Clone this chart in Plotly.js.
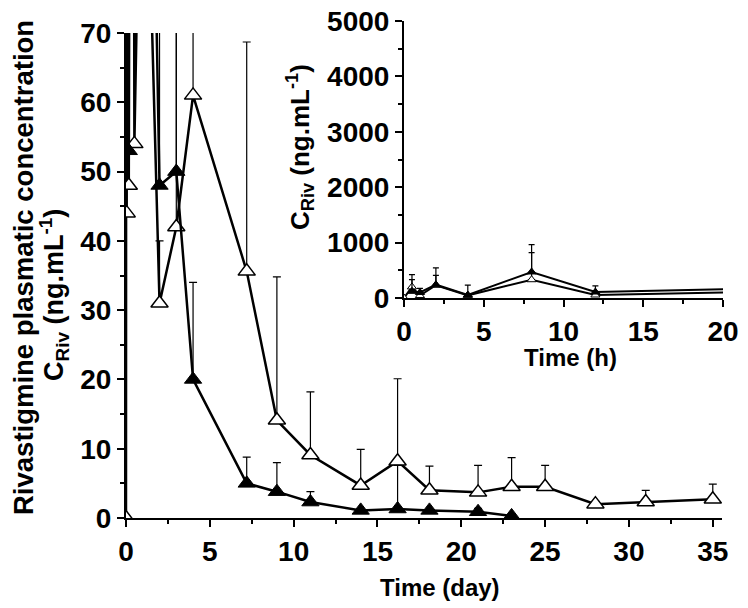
<!DOCTYPE html>
<html>
<head>
<meta charset="utf-8">
<script src="https://cdn.plot.ly/plotly-3.0.1.min.js"></script>
<style>html,body{margin:0;padding:0;background:#fff;}#chart{width:748px;height:608px;}</style>
</head>
<body>
<div id="chart"></div>
<script>
// ---- Data ----
// Early sampling times (hours), shared by both formulations
const earlyHours = [0, 0.5, 1, 2, 4, 8, 12, 24];
// Open triangles, early values (ng/mL) and upper SD
const openEarly    = [0, 200, 44, 230, 48, 330, 54, 120];
const openEarlyErr = [0, 223, 0, 312, 0, 490, 0, 0];
// Filled triangles, early values (ng/mL) and upper SD (no 0 h sample drawn)
const filledEarly    = [null, 120, 100, 240, 53, 470, 108, 180];
const filledEarlyErr = [0, 212, 75, 170, 180, 495, 110, 0];

// Later sampling times (days)
const openDays  = [2, 3, 4, 7.2, 9, 11, 14, 16.2, 18.1, 21, 23, 25, 28, 31, 35];
const openVals  = [31, 42, 61, 35.6, 14.1, 9.1, 4.7, 8.2, 4.0, 3.7, 4.5, 4.5, 2.0, 2.3, 2.7];
const openErr   = [9, 35, 30, 33.1, 20.7, 9.1, 5.2, 11.9, 3.5, 3.9, 4.2, 3.1, 0.4, 1.7, 2.2];

const filledDays = [2, 3, 4, 7.2, 9, 11, 14, 16.2, 18.1, 21, 23];
const filledVals = [48, 50, 20, 5.0, 3.8, 2.3, 1.1, 1.3, 1.1, 0.9, 0.3];
const filledErr  = [40, 40, 14, 3.8, 4.2, 1.5, 0, 6.3, 0, 0.5, 0];

// Tick labels
const mainXTicks = [0, 5, 10, 15, 20, 25, 30, 35];
const mainYTicks = [0, 10, 20, 30, 40, 50, 60, 70];
const insetXTicks = [0, 5, 10, 15, 20];
const insetYTicks = [0, 1000, 2000, 3000, 4000, 5000];

// ---- Build traces ----
const toDays = h => h / 24;
const openX = earlyHours.map(toDays).concat(openDays);
const openY = openEarly.concat(openVals);
const openE = openEarlyErr.concat(openErr);
const filledX = earlyHours.map(toDays).concat(filledDays);
const filledY = filledEarly.concat(filledVals);
const filledE = filledEarlyErr.concat(filledErr);

function errBar(arr, w, t) {
  return {type: 'data', array: arr, arrayminus: arr.map(() => 0), symmetric: false,
          color: '#000', thickness: t, width: w, visible: true};
}

const traces = [
  {x: openX, y: openY, type: 'scatter', mode: 'lines+markers', xaxis: 'x', yaxis: 'y',
   line: {color: '#000', width: 2.5},
   marker: {symbol: 'triangle-up', size: 15, color: '#fff', line: {color: '#000', width: 1.5}},
   error_y: errBar(openE, 4, 1.2)},
  {x: filledX, y: filledY, type: 'scatter', mode: 'lines+markers', xaxis: 'x', yaxis: 'y',
   line: {color: '#000', width: 2.5},
   marker: {symbol: 'triangle-up', size: 15, color: '#000', line: {color: '#000', width: 1}},
   error_y: errBar(filledE, 4, 1.2)},
  {x: earlyHours, y: openEarly, type: 'scatter', mode: 'lines+markers', xaxis: 'x2', yaxis: 'y2',
   line: {color: '#000', width: 2},
   marker: {symbol: 'triangle-up', size: 8, color: '#fff', line: {color: '#000', width: 1}},
   error_y: errBar(openEarlyErr, 3, 1.2)},
  {x: earlyHours, y: filledEarly, type: 'scatter', mode: 'lines+markers', xaxis: 'x2', yaxis: 'y2',
   line: {color: '#000', width: 2},
   marker: {symbol: 'triangle-up', size: 8, color: '#000', line: {color: '#000', width: 1}},
   error_y: errBar(filledEarlyErr, 3, 1.2)}
];

const FONT = 'Arial, "Liberation Sans", sans-serif';
const tickFont = {family: FONT, size: 28, color: '#000', weight: 'bold'};

function axisBase(extra) {
  return Object.assign({
    showline: true, linecolor: '#000', linewidth: 2, showgrid: false, zeroline: false,
    ticks: 'outside', ticklen: 7, tickwidth: 2, tickcolor: '#000',
    tickfont: tickFont, tickmode: 'array'
  }, extra);
}

const layout = {
  width: 748, height: 608,
  margin: {l: 0, r: 0, t: 0, b: 0},
  paper_bgcolor: '#fff', plot_bgcolor: 'rgba(0,0,0,0)',
  showlegend: false,
  font: {family: FONT, color: '#000'},
  xaxis: axisBase({domain: [126/748, 722/748], range: [0, 35.55], anchor: 'y',
    tickvals: mainXTicks, ticktext: mainXTicks.map(String),
    minor: {ticks: 'outside', ticklen: 4, tickwidth: 2, tickcolor: '#000', tickvals: [2.5, 7.5, 12.5, 17.5, 22.5, 27.5, 32.5]}}),
  yaxis: axisBase({domain: [(608-518)/608, (608-33)/608], range: [0, 70], anchor: 'x',
    tickvals: mainYTicks, ticktext: mainYTicks.map(String),
    minor: {ticks: 'outside', ticklen: 4, tickwidth: 2, tickcolor: '#000', tickvals: [5, 15, 25, 35, 45, 55, 65]}}),
  xaxis2: axisBase({domain: [404/748, 723/748], range: [0, 20], anchor: 'y2',
    tickvals: insetXTicks, ticktext: insetXTicks.map(String),
    minor: {ticks: 'outside', ticklen: 4, tickwidth: 2, tickcolor: '#000', tickvals: [2.5, 7.5, 12.5, 17.5]}}),
  yaxis2: axisBase({domain: [(608-298)/608, (608-21)/608], range: [0, 5000], anchor: 'x2',
    tickvals: insetYTicks, ticktext: insetYTicks.map(String),
    minor: {ticks: 'outside', ticklen: 4, tickwidth: 2, tickcolor: '#000', tickvals: [500, 1500, 2500, 3500, 4500]}}),
  annotations: [
    {text: 'Rivastigmine plasmatic concentration', xref: 'paper', yref: 'paper',
     x: 23/748, y: 1 - 268/608, xanchor: 'center', yanchor: 'middle', textangle: -90, showarrow: false,
     font: {family: FONT, size: 27.5, color: '#000', weight: 'bold'}},
    {text: 'C<sub>Riv</sub> (ng.mL<sup>-1</sup>)', xref: 'paper', yref: 'paper',
     x: 54/748, y: 1 - 295/608, xanchor: 'center', yanchor: 'middle', textangle: -90, showarrow: false,
     font: {family: FONT, size: 27, color: '#000', weight: 'bold'}},
    {text: 'Time (day)', xref: 'paper', yref: 'paper',
     x: 440/748, y: 1 - 587/608, xanchor: 'center', yanchor: 'middle', showarrow: false,
     font: {family: FONT, size: 24, color: '#000', weight: 'bold'}},
    {text: 'C<sub>Riv</sub> (ng.mL<sup>-1</sup>)', xref: 'paper', yref: 'paper',
     x: 300/748, y: 1 - 147/608, xanchor: 'center', yanchor: 'middle', textangle: -90, showarrow: false,
     font: {family: FONT, size: 26, color: '#000', weight: 'bold'}},
    {text: 'Time (h)', xref: 'paper', yref: 'paper',
     x: 570/748, y: 1 - 357/608, xanchor: 'center', yanchor: 'middle', showarrow: false,
     font: {family: FONT, size: 24, color: '#000', weight: 'bold'}}
  ]
};

Plotly.newPlot('chart', traces, layout, {displayModeBar: false, staticPlot: true});
</script>
</body>
</html>
